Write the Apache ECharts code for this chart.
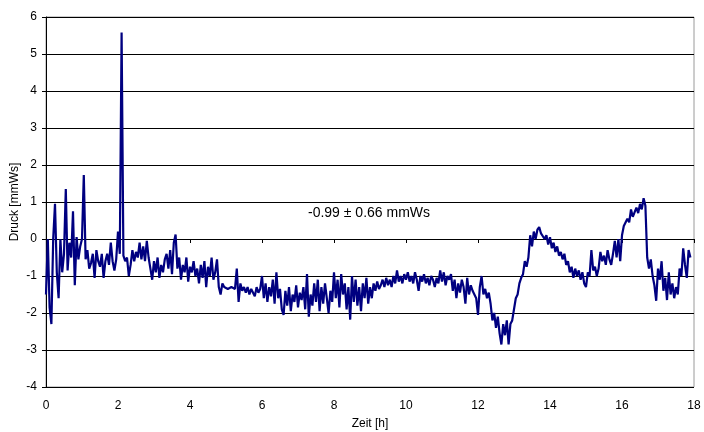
<!DOCTYPE html>
<html>
<head>
<meta charset="utf-8">
<script src="https://cdn.jsdelivr.net/npm/echarts@6/dist/echarts.min.js"></script>
<style>html,body{margin:0;padding:0;background:#fff;}#c{width:704px;height:432px;}</style>
</head>
<body>
<div id="c"></div>
<script>
// Sampling step of the readings (hours)
var timeStart = 0;
var timeStep = 0.05;

// Pressure readings [mmWs], one per 0.05 h
var druck = [
  // 0.00 - 0.95
  -1.5, 0.0, -1.85, -2.3, 0.0, 0.95, -0.9, -1.6, 0.0, -0.9, -0.4, 1.35, -0.85, -0.1, -0.5, 0.75, -1.25, 0.05, -0.55, -0.2,
  // 1.00 - 1.95
  0.0, 1.73, -0.55, -0.3, -0.8, -0.65, -0.4, -1.05, -0.3, -0.6, -0.75, -0.4, -1.05, -0.6, -0.4, -0.7, -0.1, -0.6, -0.85, -0.55,
  // 2.00 - 2.95
  0.2, -0.4, 5.58, -0.45, -0.6, -0.5, -1.0, -0.7, -0.3, -0.6, -0.35, -0.5, -0.1, -0.55, -0.2, -0.6, -0.05, -0.5, -0.8, -1.1,
  // 3.00 - 3.95
  -0.6, -0.9, -0.5, -1.05, -0.7, -0.9, -0.55, -0.4, -0.8, -0.3, -0.95, -0.1, 0.12, -0.8, -0.5, -1.1, -0.7, -0.9, -0.5, -1.15,
  // 4.00 - 4.95
  -0.75, -0.9, -0.6, -1.0, -0.8, -1.2, -0.7, -1.05, -0.6, -1.3, -0.75, -1.0, -0.5, -1.1, -0.9, -0.55, -1.3, -1.5, -1.2, -1.3,
  // 5.00 - 5.95
  -1.25, -1.35, -1.3, -1.3, -1.25, -1.35, -0.8, -1.7, -1.2, -1.4, -1.3, -1.45, -1.3, -1.5, -1.35, -1.4, -1.55, -1.3, -1.45, -1.35,
  // 6.00 - 6.95
  -1.0, -1.6, -1.2, -1.7, -1.3, -1.55, -1.1, -1.75, -0.9, -1.6, -1.35, -1.9, -2.05, -1.4, -1.8, -1.3, -1.95, -1.5, -1.7, -1.25,
  // 7.00 - 7.95
  -1.85, -1.45, -1.65, -1.3, -1.9, -0.95, -2.1, -1.5, -1.8, -1.2, -1.7, -1.1, -1.95, -1.3, -1.75, -1.2, -1.6, -2.0, -1.4, -1.7,
  // 8.00 - 8.95
  -0.9, -1.6, -1.1, -1.85, -0.95, -1.5, -1.2, -1.9, -1.3, -2.18, -1.0, -1.7, -1.1, -1.8, -1.3, -1.95, -1.2, -1.6, -1.05, -1.75,
  // 9.00 - 9.95
  -1.3, -1.6, -1.2, -1.4, -1.15, -1.35, -1.25, -1.1, -1.3, -1.05, -1.25, -1.1, -1.3, -1.0, -1.2, -0.85, -1.15, -1.0, -1.2, -0.95,
  // 10.00 - 10.95
  -1.1, -0.9, -1.15, -1.0, -1.2, -0.9, -1.1, -1.4, -1.0, -1.15, -0.95, -1.2, -1.05, -1.25, -1.0, -1.1, -1.3, -1.05, -1.2, -0.85,
  // 11.00 - 11.95
  -1.15, -0.9, -1.25, -1.0, -1.1, -0.95, -1.4, -1.1, -1.6, -1.2, -1.45, -1.1, -1.3, -1.75, -1.05, -1.5, -1.25, -1.4, -1.4, -1.6,
  // 12.00 - 12.95
  -2.05, -1.3, -1.0, -1.5, -1.35, -1.6, -1.45, -1.75, -2.2, -2.0, -2.4, -2.1, -2.55, -2.85, -2.3, -2.6, -2.2, -2.85, -2.3, -2.2,
  // 13.00 - 13.95
  -1.9, -1.6, -1.5, -1.2, -1.05, -0.95, -0.6, -0.75, -0.5, 0.1, -0.2, 0.2, 0.0, 0.25, 0.32, 0.15, 0.2, 0.0, 0.1, -0.15,
  // 14.00 - 14.95
  0.05, -0.25, -0.1, -0.35, -0.2, -0.45, -0.35, -0.55, -0.4, -0.7, -0.6, -0.9, -0.75, -1.05, -0.8, -1.0, -0.85, -1.1, -0.9, -1.2,
  // 15.00 - 15.95
  -1.3, -0.9, -1.0, -0.3, -0.85, -0.75, -1.0, -0.8, -0.35, -0.6, -0.45, -0.7, -0.3, -0.55, -0.7, -0.4, -0.05, -0.5, 0.0, -0.6,
  // 16.00 - 16.95
  0.1, 0.35, 0.3, 0.55, 0.45, 0.8, 0.6, 0.55, 0.85, 0.7, 0.95, 0.8, 1.1, 0.9, -0.5, -0.8, -0.55, -1.0, -1.25, -1.67,
  // 17.00 - 17.90
  -0.8, -1.1, -0.6, -1.4, -1.05, -1.65, -0.9, -1.5, -1.2, -1.6, -1.3, -1.5, -0.8, -1.0, -0.25, -0.7, -1.05, -0.3, -0.5
];

var xTicks = [0, 2, 4, 6, 8, 10, 12, 14, 16, 18];
var yTicks = [-4, -3, -2, -1, 0, 1, 2, 3, 4, 5, 6];
var annotation = '-0.99 ± 0.66 mmWs';
var xName = 'Zeit [h]';
var yName = 'Druck [mmWs]';

var points = druck.map(function (v, i) {
  return [+(timeStart + i * timeStep).toFixed(2), v];
});

var font = 'Arial, "Liberation Sans", sans-serif';
var chart = echarts.init(document.getElementById('c'), null, { renderer: 'canvas' });
chart.setOption({
  animation: false,
  backgroundColor: '#ffffff',
  grid: {
    left: 46, right: 10, top: 17, bottom: 45,
    containLabel: false, outerBoundsMode: 'none',
    show: true, borderColor: '#9a9a9a', borderWidth: 1, backgroundColor: 'transparent'
  },
  xAxis: [
    {
      type: 'value', min: xTicks[0], max: xTicks[xTicks.length - 1], interval: 2,
      position: 'bottom',
      axisLine: { show: true, onZero: true, lineStyle: { color: '#000', width: 1 } },
      axisTick: { show: true, length: 4, lineStyle: { color: '#000' } },
      axisLabel: { show: false },
      splitLine: { show: false }
    },
    {
      type: 'value', min: xTicks[0], max: xTicks[xTicks.length - 1], interval: 2,
      position: 'bottom',
      axisLine: { show: false, onZero: false },
      axisTick: { show: false },
      axisLabel: { show: true, margin: 13, color: '#000', fontSize: 12, fontFamily: font },
      splitLine: { show: false },
      name: xName, nameLocation: 'middle', nameGap: 31, nameMoveOverlap: false,
      nameTextStyle: { color: '#000', fontSize: 12, fontFamily: font }
    }
  ],
  yAxis: {
    type: 'value', min: yTicks[0], max: yTicks[yTicks.length - 1], interval: 1,
    axisLine: { show: true, lineStyle: { color: '#000', width: 1 } },
    axisTick: { show: true, length: 4, lineStyle: { color: '#000' } },
    axisLabel: { margin: 9, color: '#000', fontSize: 12, fontFamily: font },
    splitLine: { show: true, lineStyle: { color: '#000', width: 1 } },
    name: yName, nameLocation: 'middle', nameGap: 25, nameRotate: 90, nameMoveOverlap: false,
    nameTextStyle: { color: '#000', fontSize: 12, fontFamily: font }
  },
  series: [{
    type: 'line',
    xAxisIndex: 0,
    data: points,
    showSymbol: false,
    symbol: 'none',
    lineStyle: { color: '#000080', width: 2.2 },
    itemStyle: { color: '#000080' },
    z: 5
  }],
  graphic: [{
    type: 'text',
    left: 308, top: 206,
    style: { text: annotation, fill: '#000', font: '14px ' + font }
  }]
});
</script>
</body>
</html>
